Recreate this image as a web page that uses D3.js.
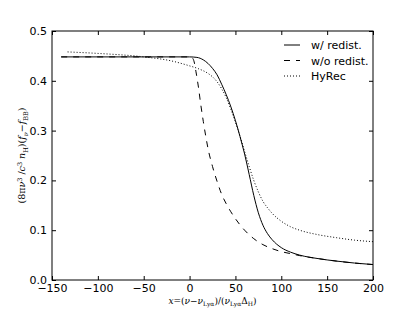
<!DOCTYPE html>
<html>
<head>
<meta charset="utf-8">
<script src="https://cdn.jsdelivr.net/npm/d3@7"></script>
<style>
  body { margin:0; background:#fff; }
  svg text { font-family: "DejaVu Sans", sans-serif; }
</style>
</head>
<body>
<div id="plot"></div>
<script>
// values
var x_ticks = [-150,-100,-50,0,50,100,150,200]
var y_ticks = [0.0,0.1,0.2,0.3,0.4,0.5]

var redist_x = [-140,0,8,15,20,25,30,35,40,45,50,55,60,65,70,75,80,85,90,100,110,120,140,160,180,200]
var redist_y = [0.448,0.448,0.447,0.442,0.435,0.425,0.412,0.393,0.372,0.348,0.320,0.288,0.253,0.212,0.170,0.135,0.110,0.093,0.081,0.065,0.056,0.050,0.043,0.038,0.034,0.031]

var noredist_x = [-140,0,3,5,7,10,12,15,18,20,25,30,35,40,45,50,60,70,80,90,100,110,120,140,160,180,200]
var noredist_y = [0.448,0.448,0.446,0.438,0.418,0.383,0.355,0.318,0.285,0.265,0.228,0.198,0.172,0.153,0.137,0.123,0.100,0.083,0.071,0.063,0.057,0.053,0.049,0.043,0.038,0.034,0.031]

var hyrec_x = [-133,-100,-50,-20,0,10,20,25,30,35,40,45,50,55,60,65,70,75,80,85,90,100,110,120,140,160,180,200]
var hyrec_y = [0.458,0.455,0.448,0.440,0.430,0.424,0.415,0.408,0.398,0.384,0.366,0.343,0.317,0.289,0.258,0.228,0.200,0.177,0.158,0.145,0.134,0.118,0.107,0.100,0.091,0.085,0.080,0.077]

var series = [
  {label:"w/ redist.", xs:redist_x, ys:redist_y, dash:null},
  {label:"w/o redist.", xs:noredist_x, ys:noredist_y, dash:"6,6"},
  {label:"HyRec", xs:hyrec_x, ys:hyrec_y, dash:"1,2"}
]

var W = 415, H = 312
var margin = {top:31, right:42, bottom:32, left:52}
var width = W - margin.left - margin.right,
    height = H - margin.top - margin.bottom

var svg = d3.select("#plot").append("svg")
    .attr("width", W).attr("height", H)
var g = svg.append("g").attr("transform", `translate(${margin.left},${margin.top})`)

var x = d3.scaleLinear().domain([-150,200]).range([0,width])
var y = d3.scaleLinear().domain([0,0.5]).range([height,0])

// curves
var line = d3.line().x(d => x(d[0])).y(d => y(d[1])).curve(d3.curveMonotoneX)
series.forEach(function(s){
    var pts = s.xs.map((v,i) => [v, s.ys[i]])
    g.append("path").datum(pts)
      .attr("d", line)
      .attr("fill","none")
      .attr("stroke","#000")
      .attr("stroke-width",1)
      .attr("stroke-dasharray", s.dash)
})

// axes, ticks pointing inward on all four sides
var fmtY = d3.format(".1f")
g.append("g").attr("transform", `translate(0,${height})`)
  .call(d3.axisBottom(x).tickValues(x_ticks).tickSizeInner(-4).tickSizeOuter(0).tickPadding(4).tickFormat(d => d < 0 ? "\u2212" + Math.abs(d) : d))
g.append("g")
  .call(d3.axisTop(x).tickValues(x_ticks).tickSizeInner(-4).tickSizeOuter(0).tickFormat(""))
g.append("g")
  .call(d3.axisLeft(y).tickValues(y_ticks).tickSizeInner(-4).tickSizeOuter(0).tickPadding(5).tickFormat(fmtY))
g.append("g").attr("transform", `translate(${width},0)`)
  .call(d3.axisRight(y).tickValues(y_ticks).tickSizeInner(-4).tickSizeOuter(0).tickFormat(""))

g.selectAll(".domain").remove()
g.selectAll(".tick line").attr("stroke","#000")
g.selectAll(".tick text").attr("fill","#000").style("font-size","11px")

g.append("rect").attr("width",width).attr("height",height)
  .attr("fill","none").attr("stroke","#000").attr("stroke-width",1)

// legend
var leg = g.append("g").attr("transform", `translate(${width-89},${14})`)
series.forEach(function(s,i){
    var r = leg.append("g").attr("transform", `translate(0,${i*15.5})`)
    r.append("line").attr("x1",0).attr("x2",16).attr("y1",0).attr("y2",0)
      .attr("stroke","#000").attr("stroke-width",1).attr("stroke-dasharray", s.dash)
    r.append("text").attr("x",27).attr("y",4).style("font-size","11px").text(s.label)
})

// axis labels
var lab = svg.append("text")
  .attr("x", margin.left + width/2).attr("y", 304)
  .attr("text-anchor","middle")
  .style("font-family","'DejaVu Serif', serif").style("font-size","9px")
lab.append("tspan").style("font-style","italic").text("x")
lab.append("tspan").text("=(")
lab.append("tspan").style("font-style","italic").text("ν")
lab.append("tspan").text("−")
lab.append("tspan").style("font-style","italic").text("ν")
lab.append("tspan").attr("dy",2).style("font-size","6px").text("Lyα")
lab.append("tspan").attr("dy",-2).text(")/(")
lab.append("tspan").style("font-style","italic").text("ν")
lab.append("tspan").attr("dy",2).style("font-size","6px").text("Lyα")
lab.append("tspan").attr("dy",-2).text("Δ")
lab.append("tspan").attr("dy",2).style("font-size","6px").text("H")
lab.append("tspan").attr("dy",-2).text(")")

var ylab = svg.append("text")
  .attr("transform", `translate(25,${margin.top + height/2}) rotate(-90)`)
  .attr("text-anchor","middle")
  .style("font-family","'DejaVu Serif', serif").style("font-size","9.5px")
ylab.append("tspan").text("(8π")
ylab.append("tspan").style("font-style","italic").text("ν")
ylab.append("tspan").attr("dy",-3).style("font-size","6.5px").text("3")
ylab.append("tspan").attr("dy",3).text(" /")
ylab.append("tspan").style("font-style","italic").text("c")
ylab.append("tspan").attr("dy",-3).style("font-size","6.5px").text("3")
ylab.append("tspan").attr("dy",3).style("font-style","italic").text(" n")
ylab.append("tspan").attr("dy",2.5).style("font-size","6.5px").text("H")
ylab.append("tspan").attr("dy",-2.5).text(")(")
ylab.append("tspan").style("font-style","italic").text("f")
ylab.append("tspan").attr("dy",2.5).style("font-size","6.5px").style("font-style","italic").text("ν")
ylab.append("tspan").attr("dy",-2.5).text("−")
ylab.append("tspan").style("font-style","italic").text("f")
ylab.append("tspan").attr("dy",2.5).style("font-size","6.5px").text("BB")
ylab.append("tspan").attr("dy",-2.5).text(")")
</script>
</body>
</html>
